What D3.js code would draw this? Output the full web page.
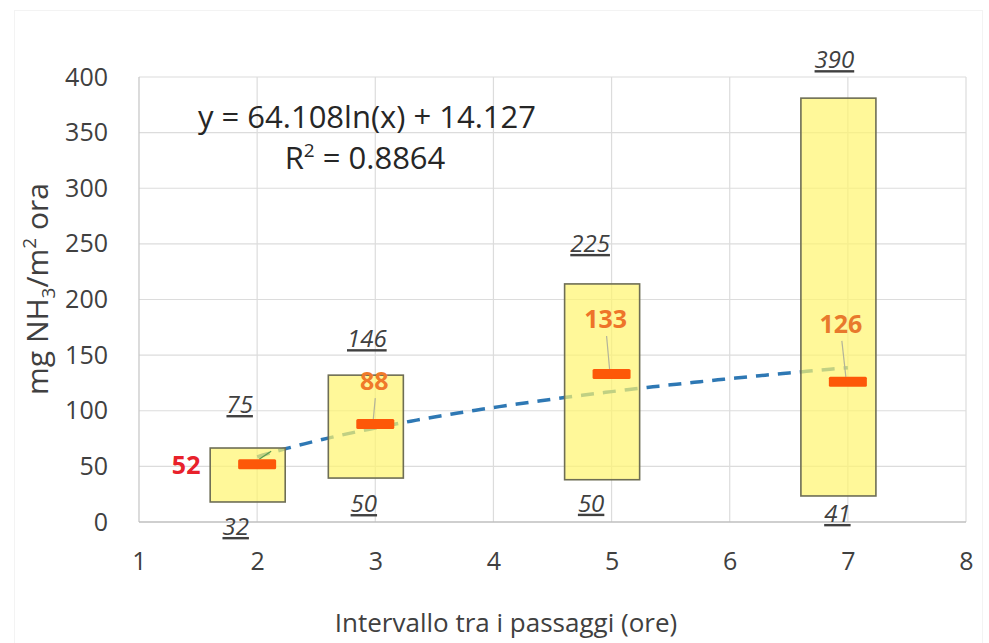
<!DOCTYPE html>
<html>
<head>
<meta charset="utf-8">
<script src="https://cdn.jsdelivr.net/npm/d3@7/dist/d3.min.js"></script>
<style>
  body { margin: 0; background: #fff; }
  svg { display: block; font-family: "Open Sans", sans-serif; }
</style>
</head>
<body>
<div id="chart"></div>
<script>
// intervals between passes (hours)
var intervals = [2, 3, 5, 7];
// mean emission (mg NH3/m2 ora)
var means = [52, 88, 133, 126];
// labelled max / min
var maxLabels = [75, 146, 225, 390];
var minLabels = [32, 50, 50, 41];
// yellow range boxes as drawn in the picture
var boxTop = [66.5, 132, 214, 381];
var boxBottom = [18, 39.5, 38, 23.4];
var xTicks = [1, 2, 3, 4, 5, 6, 7, 8];
var yTicks = [0, 50, 100, 150, 200, 250, 300, 350, 400];

var W = 989, H = 643;
var svg = d3.select('#chart').append('svg').attr('width', W).attr('height', H);

var x = d3.scaleLinear().domain([1, 8]).range([139, 966]);
var y = d3.scaleLinear().domain([0, 400]).range([522, 77]);

// faint outer frame
svg.append('rect')
    .attr('x', 14.5).attr('y', 10.5).attr('width', 968).attr('height', 640)
    .attr('fill', 'none').attr('stroke', '#f3f3f3');

var g = svg.append('g');

// gridlines
g.append('g').selectAll('line')
    .data(yTicks.slice(1))
    .enter().append('line')
    .attr('x1', x(1)).attr('x2', x(8))
    .attr('y1', function (d) { return y(d); })
    .attr('y2', function (d) { return y(d); })
    .attr('stroke', '#dcdcdc').attr('stroke-width', 1.2);

g.append('g').selectAll('line')
    .data(xTicks)
    .enter().append('line')
    .attr('x1', function (d) { return x(d); })
    .attr('x2', function (d) { return x(d); })
    .attr('y1', y(0)).attr('y2', y(400))
    .attr('stroke', function (d) { return d == 1 ? '#c4c4c4' : '#dcdcdc'; })
    .attr('stroke-width', 1.2);

g.append('line')
    .attr('x1', x(1)).attr('x2', x(8))
    .attr('y1', y(0)).attr('y2', y(0))
    .attr('stroke', '#bfbfbf').attr('stroke-width', 1.5);

// axes (labels only)
var yAxis = g.append('g')
    .attr('transform', 'translate(108,0)')
    .call(d3.axisLeft(y).tickValues(yTicks).tickSize(0).tickPadding(0));
var xAxis = g.append('g')
    .attr('transform', 'translate(0,570)')
    .call(d3.axisBottom(x).tickValues(xTicks).tickFormat(d3.format('d')).tickSize(0).tickPadding(0));
[yAxis, xAxis].forEach(function (a) {
    a.select('.domain').remove();
    a.selectAll('text')
        .attr('font-family', '"Open Sans", sans-serif')
        .attr('font-size', '25px')
        .attr('fill', '#404040');
});
xAxis.selectAll('text').attr('y', 0).attr('dy', 0);

// logarithmic trendline fitted on the means (least squares on ln x)
var lx = intervals.map(Math.log);
var mx = d3.mean(lx), my = d3.mean(means);
var sxy = d3.sum(lx, function (v, i) { return (v - mx) * (means[i] - my); });
var sxx = d3.sum(lx, function (v) { return (v - mx) * (v - mx); });
var slope = sxy / sxx, icpt = my - slope * mx;
var trendX = d3.range(2, 7.001, 0.05);
g.append('path')
    .datum(trendX)
    .attr('d', d3.line()
        .x(function (d) { return x(d); })
        .y(function (d) { return y(icpt + slope * Math.log(d)); }))
    .attr('fill', 'none')
    .attr('stroke', '#2e78b4')
    .attr('stroke-width', 3.5)
    .attr('stroke-dasharray', '13,9');

// range boxes
var bw = 0.635, boff = -0.08;
g.append('g').selectAll('rect')
    .data(intervals)
    .enter().append('rect')
    .attr('x', function (d) { return x(d + boff - bw / 2); })
    .attr('width', x(1 + bw) - x(1))
    .attr('y', function (d, i) { return y(boxTop[i]); })
    .attr('height', function (d, i) { return y(boxBottom[i]) - y(boxTop[i]); })
    .attr('fill', '#fff56e')
    .attr('fill-opacity', 0.7)
    .attr('stroke', '#6e6e55')
    .attr('stroke-width', 1.6);

// label placement (px offsets)
var meanLabelOffset = [[-71, 10], [-1, -34], [-6, -46], [-7, -49]];
var meanColors = ['#e8212b', '#f07a2a', '#ee7429', '#e8792c'];
var maxLabelOffset = [[-8, -35], [1, -28], [-12, -32], [-4, -30]];
var minLabelOffset = [[-12, 33], [-2, 34], [-11, 32], [-1, 26]];

// leader lines
g.append('g').selectAll('line')
    .data(intervals)
    .enter().append('line')
    .attr('x1', function (d, i) { return i == 0 ? x(d) + 2 : x(d) + meanLabelOffset[i][0] + 1; })
    .attr('y1', function (d, i) { return i == 0 ? y(means[i]) - 5 : y(means[i]) + meanLabelOffset[i][1] + 8; })
    .attr('x2', function (d, i) { return i == 0 ? x(d) + 14 : x(d) - 2; })
    .attr('y2', function (d, i) { return i == 0 ? y(means[i]) - 13 : y(means[i]) - 5; })
    .attr('stroke', function (d, i) { return i == 0 ? '#5a9a50' : '#b3b39a'; })
    .attr('stroke-width', 1.2);

// mean markers
g.append('g').selectAll('rect')
    .data(intervals)
    .enter().append('rect')
    .attr('x', function (d) { return x(d) - 19; })
    .attr('y', function (d, i) { return y(means[i]) - 5; })
    .attr('width', 38).attr('height', 10)
    .attr('rx', 1.5)
    .attr('fill', '#fd5808');

// mean labels
g.append('g').selectAll('text')
    .data(intervals)
    .enter().append('text')
    .attr('x', function (d, i) { return x(d) + meanLabelOffset[i][0]; })
    .attr('y', function (d, i) { return y(means[i]) + meanLabelOffset[i][1]; })
    .attr('text-anchor', 'middle')
    .attr('font-size', '25px')
    .attr('font-weight', 'bold')
    .attr('fill', function (d, i) { return meanColors[i]; })
    .text(function (d, i) { return means[i]; });

// max / min labels, italic underlined
function boxCenter(d) { return x(d + boff); }
g.append('g').selectAll('text')
    .data(intervals)
    .enter().append('text')
    .attr('x', function (d, i) { return boxCenter(d) + maxLabelOffset[i][0]; })
    .attr('y', function (d, i) { return y(boxTop[i]) + maxLabelOffset[i][1]; })
    .attr('text-anchor', 'middle')
    .attr('font-size', '24px')
    .attr('font-style', 'italic')
    .attr('text-decoration', 'underline')
    .attr('fill', '#404040')
    .text(function (d, i) { return maxLabels[i]; });

g.append('g').selectAll('text')
    .data(intervals)
    .enter().append('text')
    .attr('x', function (d, i) { return boxCenter(d) + minLabelOffset[i][0]; })
    .attr('y', function (d, i) { return y(boxBottom[i]) + minLabelOffset[i][1]; })
    .attr('text-anchor', 'middle')
    .attr('font-size', '24px')
    .attr('font-style', 'italic')
    .attr('text-decoration', 'underline')
    .attr('fill', '#404040')
    .text(function (d, i) { return minLabels[i]; });

// trendline equation
var eq = g.append('g').attr('font-size', '31px').attr('fill', '#262626').attr('text-anchor', 'middle');
eq.append('text').attr('x', 367).attr('y', 128).text('y = 64.108ln(x) + 14.127');
var r2 = eq.append('text').attr('x', 365).attr('y', 169);
r2.append('tspan').text('R');
r2.append('tspan').attr('font-size', '19px').attr('dy', -12).text('2');
r2.append('tspan').attr('dy', 12).text(' = 0.8864');

// axis titles
svg.append('text')
    .attr('x', 506).attr('y', 632)
    .attr('text-anchor', 'middle')
    .attr('font-size', '26px')
    .attr('fill', '#404040')
    .text('Intervallo tra i passaggi (ore)');

var yt = svg.append('text')
    .attr('transform', 'translate(48,289) rotate(-90)')
    .attr('text-anchor', 'middle')
    .attr('font-size', '30px')
    .attr('fill', '#404040');
yt.append('tspan').text('mg NH');
yt.append('tspan').attr('font-size', '19px').attr('dy', 7).text('3');
yt.append('tspan').attr('dy', -7).text('/m');
yt.append('tspan').attr('font-size', '19px').attr('dy', -12).text('2');
yt.append('tspan').attr('dy', 12).text(' ora');
</script>
</body>
</html>
